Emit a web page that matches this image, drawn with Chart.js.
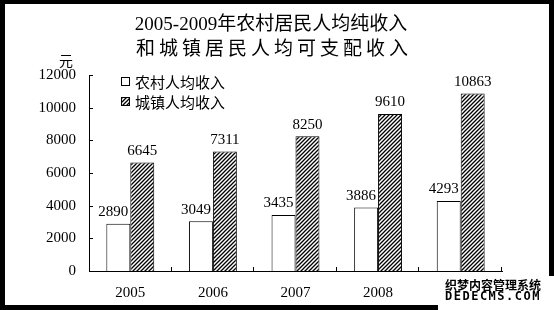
<!DOCTYPE html>
<html>
<head>
<meta charset="utf-8">
<script src="https://cdn.jsdelivr.net/npm/chart.js@4.4.1/dist/chart.umd.min.js"></script>
<style>
  html, body { margin: 0; padding: 0; background: #fff; }
  #wrap { width: 554px; height: 310px; }
</style>
</head>
<body>
<div id="wrap"><canvas id="grafica" width="554" height="310"></canvas></div>
<script>
const years = ['2005', '2006', '2007', '2008', '2009'];
const rural = [2890, 3049, 3435, 3886, 4293];
const urban = [6645, 7311, 8250, 9610, 10863];
const seriesNames = ['农村人均收入', '城镇人均收入'];
const titleLines = ['2005-2009年农村居民人均纯收入', '和城镇居民人均可支配收入'];
const unitLabel = '元';

const SERIF = "'Liberation Serif', 'Noto Sans CJK SC', serif";
const CJK = "'Noto Sans CJK SC', sans-serif";

// diagonal hatch for the urban bars
function hatch() {
    const c = document.createElement('canvas');
    c.width = 4; c.height = 4;
    const g = c.getContext('2d');
    g.fillStyle = '#fff';
    g.fillRect(0, 0, 4, 4);
    g.strokeStyle = '#000';
    g.lineWidth = 1.3;
    g.beginPath();
    g.moveTo(-1, 5); g.lineTo(5, -1);
    g.moveTo(-1, 1); g.lineTo(1, -1);
    g.moveTo(3, 5); g.lineTo(5, 3);
    g.stroke();
    return g.createPattern(c, 'repeat');
}

const decor = {
    id: 'decor',
    beforeDraw(chart) {
        const ctx = chart.ctx;
        ctx.save();
        ctx.fillStyle = '#fff';
        ctx.fillRect(0, 0, chart.width, chart.height);
        ctx.restore();
    },
    afterDatasetsDraw(chart) {
        const ctx = chart.ctx;
        ctx.save();
        ctx.fillStyle = '#000';
        ctx.font = '15px ' + SERIF;
        ctx.textAlign = 'center';
        ctx.textBaseline = 'bottom';
        chart.data.datasets.forEach((ds, i) => {
            const meta = chart.getDatasetMeta(i);
            const off = i === 0 ? -5 : 0;
            meta.data.forEach((bar, j) => {
                ctx.fillText(String(ds.data[j]), bar.x + off, bar.y - 4);
            });
        });
        ctx.restore();
    },
    afterDraw(chart) {
        const ctx = chart.ctx;
        const area = chart.chartArea;
        const x = chart.scales.x;
        const y = chart.scales.y;
        ctx.save();
        ctx.strokeStyle = '#000';
        ctx.lineWidth = 1;
        ctx.beginPath();
        // inward ticks on the value axis
        y.ticks.forEach(t => {
            const py = Math.round(y.getPixelForValue(t.value)) + 0.5;
            ctx.moveTo(area.left, py);
            ctx.lineTo(area.left + 4, py);
        });
        // inward ticks between categories
        for (let i = 1; i <= years.length; i++) {
            const px = Math.round(x.left + i * x.width / years.length) - 0.5;
            ctx.moveTo(px, area.bottom);
            ctx.lineTo(px, area.bottom - 4);
        }
        ctx.stroke();

        // title
        ctx.fillStyle = '#000';
        ctx.textAlign = 'center';
        ctx.textBaseline = 'middle';
        ctx.font = '19px ' + SERIF;
        ctx.fillText(titleLines[0], 271, 25);
        ctx.letterSpacing = '4px';
        ctx.fillText(titleLines[1], 274, 50);
        ctx.letterSpacing = '0px';

        // unit
        ctx.font = '14px ' + CJK;
        ctx.fillText(unitLabel, 66, 61);

        // legend
        ctx.textAlign = 'left';
        ctx.font = '15px ' + CJK;
        chart.data.datasets.forEach((ds, i) => {
            const cy = 82 + i * 20;
            ctx.fillStyle = ds.backgroundColor;
            ctx.fillRect(121.5, cy - 4.5, 8, 8);
            ctx.strokeRect(121.5, cy - 4.5, 8, 8);
            ctx.fillStyle = '#000';
            ctx.fillText(seriesNames[i], 135, cy);
        });

        // frame
        ctx.fillRect(0, 0, chart.width, 4);
        ctx.fillRect(0, 0, 5, chart.height);
        ctx.fillRect(0, chart.height - 5, chart.width, 5);
        ctx.fillRect(chart.width - 5, 0, 5, chart.height);

        // watermark
        ctx.fillStyle = '#fff';
        ctx.fillRect(438, 276, chart.width - 438, chart.height - 276);
        ctx.lineJoin = 'round';
        ctx.strokeStyle = '#fff';
        ctx.lineWidth = 2;
        ctx.fillStyle = '#000';
        ctx.textBaseline = 'middle';
        ctx.font = 'bold 12px ' + CJK;
        ctx.fillText('织梦内容管理系统', 445, 285);
        ctx.letterSpacing = '1.5px';
        ctx.font = 'bold 12px ' + "'DejaVu Sans Mono', monospace";
        ctx.fillText('DEDECMS.COM', 445, 297);
        ctx.restore();
    }
};

new Chart(document.getElementById('grafica').getContext('2d'), {
    type: 'bar',
    data: {
        labels: years,
        datasets: [{
            label: seriesNames[0],
            data: rural,
            backgroundColor: '#ffffff',
            borderColor: '#000000',
            borderWidth: 1,
            borderSkipped: 'bottom',
            categoryPercentage: 0.58,
            barPercentage: 1.0
        }, {
            label: seriesNames[1],
            data: urban,
            backgroundColor: hatch(),
            borderColor: '#000000',
            borderWidth: 1,
            borderSkipped: 'bottom',
            categoryPercentage: 0.58,
            barPercentage: 1.0
        }]
    },
    options: {
        responsive: false,
        animation: false,
        events: [],
        layout: { padding: { left: 39, right: 52, top: 75, bottom: 9 } },
        plugins: {
            legend: { display: false },
            title: { display: false },
            tooltip: { enabled: false }
        },
        scales: {
            x: {
                grid: { display: false, drawTicks: false },
                border: { display: true, color: '#000', width: 1 },
                ticks: { color: '#000', padding: 13, font: { family: SERIF, size: 15 } },
                afterFit(s) { s.height = 30; }
            },
            y: {
                min: 0,
                max: 12000,
                grid: { display: false, drawTicks: false },
                border: { display: true, color: '#000', width: 1 },
                ticks: {
                    stepSize: 2000,
                    color: '#000',
                    padding: 13,
                    font: { family: SERIF, size: 15 },
                    callback: v => String(v)
                },
                afterFit(s) { s.width = 50; }
            }
        }
    },
    plugins: [decor]
});
</script>
</body>
</html>
